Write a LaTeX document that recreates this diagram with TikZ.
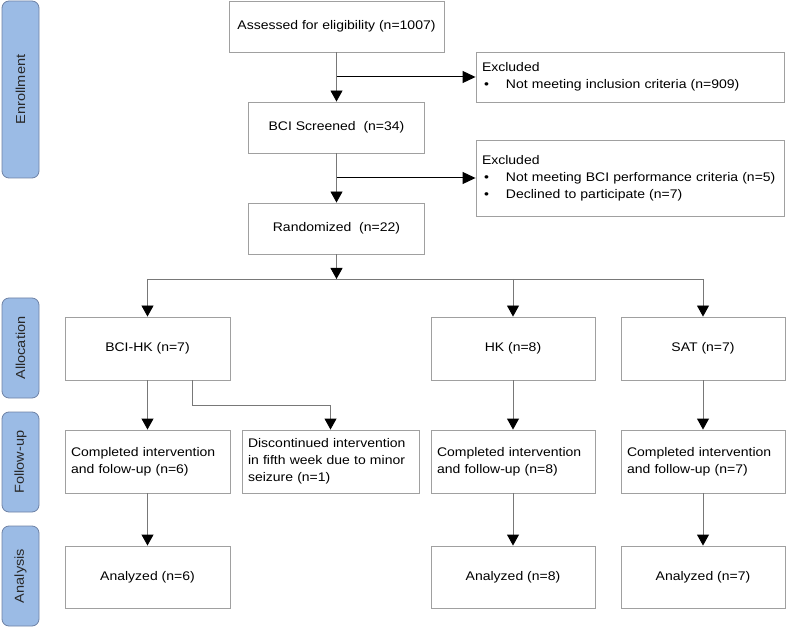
\documentclass[tikz,border=0pt]{standalone}
\usepackage{fontspec}
\setmainfont{Liberation Sans}[FakeStretch=1.12]
\usepackage{graphicx}
\usetikzlibrary{arrows.meta}
\definecolor{sidefill}{RGB}{155,187,229}
\definecolor{sidedraw}{RGB}{110,130,165}
\definecolor{boxdraw}{RGB}{160,160,160}
\definecolor{linegray}{RGB}{120,120,120}
\definecolor{labeltext}{RGB}{40,40,40}
\tikzset{
  box/.style={draw=boxdraw, line width=0.9pt, inner sep=0pt, align=center,
    font=\fontsize{12.5}{17}\selectfont},
  lbox/.style={draw=boxdraw, line width=0.9pt, inner xsep=6pt, inner ysep=0pt, align=left,
    font=\fontsize{12.5}{17}\selectfont},
  side/.style={draw=sidedraw, fill=sidefill, rounded corners=7pt, line width=0.8pt,
    minimum width=37pt, inner sep=0pt, text=labeltext, font=\fontsize{13}{15}\selectfont},
  arr/.style={draw=linegray, line width=0.9pt, -{Triangle[width=12pt,length=11pt,color=black]}},
  barr/.style={draw=black, line width=1pt, -{Triangle[width=12pt,length=13pt,color=black]}},
  conn/.style={draw=linegray, line width=0.9pt},
}
\newcommand{\bul}{\leavevmode\makebox[24pt][l]{\hspace{2pt}•}}
\begin{document}
\begin{tikzpicture}[x=1pt,y=-1pt]
\useasboundingbox (0,0) rectangle (787,628);
% side labels
\node[side, minimum height=177pt] (enr) at (20.5,89.5) {\rotatebox{90}{Enrollment}};
\node[side, minimum height=100pt] (alo) at (20.5,348) {\rotatebox{90}{Allocation}};
\node[side, minimum height=100pt] (fol) at (20.5,462) {\rotatebox{90}{Follow-up}};
\node[side, minimum height=100pt] (ana) at (20.5,576) {\rotatebox{90}{Analysis}};
% enrollment
\node[box, minimum width=215pt, minimum height=51pt] (assess) at (336.5,26.5) {Assessed for eligibility (n=1007)};
\node[lbox, text width=296pt, minimum height=50pt] (exc1) at (630,77) {Excluded\\\bul Not meeting inclusion criteria (n=909)};
\node[box, minimum width=176pt, minimum height=51pt] (screen) at (336.5,127.5) {BCI Screened\ \ (n=34)};
\node[lbox, text width=296pt, minimum height=76pt] (exc2) at (630,178) {Excluded\\\bul Not meeting BCI performance criteria (n=5)\\\bul Declined to participate (n=7)};
\node[box, minimum width=176pt, minimum height=51pt] (rand) at (336.5,228.5) {Randomized\ \ (n=22)};
% allocation
\node[box, minimum width=165pt, minimum height=63pt] (bcihk) at (147.5,348.5) {BCI-HK (n=7)};
\node[box, minimum width=164pt, minimum height=63pt] (hk) at (513,348.5) {HK (n=8)};
\node[box, minimum width=164pt, minimum height=63pt] (sat) at (703,348.5) {SAT (n=7)};
% follow-up
\node[lbox, text width=153pt, minimum height=63pt] (comp1) at (147.5,461.5) {Completed intervention\\and folow-up (n=6)};
\node[lbox, text width=165pt, minimum height=63pt] (disc) at (330.5,461.5) {Discontinued intervention\\in fifth week due to minor\\seizure (n=1)};
\node[lbox, text width=152pt, minimum height=63pt] (comp2) at (513,461.5) {Completed intervention\\and follow-up (n=8)};
\node[lbox, text width=152pt, minimum height=63pt] (comp3) at (703,461.5) {Completed intervention\\and follow-up (n=7)};
% analysis
\node[box, minimum width=165pt, minimum height=62pt] (an1) at (147.5,577) {Analyzed (n=6)};
\node[box, minimum width=164pt, minimum height=62pt] (an2) at (513,577) {Analyzed (n=8)};
\node[box, minimum width=164pt, minimum height=62pt] (an3) at (703,577) {Analyzed (n=7)};
% coordinates
\coordinate (b1) at (336.5,77);
\coordinate (b2) at (336.5,178);
\coordinate (split) at (336.5,279);
\coordinate (sl) at (147.5,279);
\coordinate (sr) at (703,279);
\coordinate (d0) at (192,380);
\coordinate (d1) at (192,405);
% connectors
\draw[arr] (assess.south) -- (screen.north);
\draw[barr] (b1) -- (exc1.west);
\draw[arr] (screen.south) -- (rand.north);
\draw[barr] (b2) -- (exc2.west);
\draw[arr] (rand.south) -- (split);
\draw[conn] (sl) -- (sr);
\draw[arr] (sl) -- (bcihk.north);
\draw[arr] (hk.north |- split) -- (hk.north);
\draw[arr] (sr) -- (sat.north);
\draw[arr] (bcihk.south) -- (comp1.north);
\draw[arr] (d0) -- (d1) -| (disc.north);
\draw[arr] (hk.south) -- (comp2.north);
\draw[arr] (sat.south) -- (comp3.north);
\draw[arr] (comp1.south) -- (an1.north);
\draw[arr] (comp2.south) -- (an2.north);
\draw[arr] (comp3.south) -- (an3.north);
\end{tikzpicture}
\end{document}
